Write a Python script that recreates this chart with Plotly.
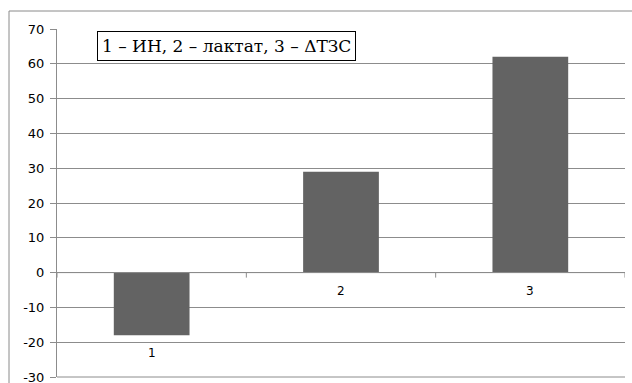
import plotly.graph_objects as go

categories = ["1", "2", "3"]
values = [-18, 29, 62]
y_ticks = [-30, -20, -10, 0, 10, 20, 30, 40, 50, 60, 70]
y_tick_labels = ["-30", "-20", "-10", "0", "10", "20", "30", "40", "50", "60", "70"]
legend_text = "1 – ИН, 2 – лактат, 3 – ΔТЗС"

W, H = 632, 383
L, R, T, B = 57, 7, 29, 6
pw, ph = W - L - R, H - T - B

fig = go.Figure()
fig.add_trace(go.Bar(
    x=list(range(len(categories))), y=values,
    marker=dict(color="#636363", line=dict(width=0)),
    width=0.4, showlegend=False, hoverinfo="skip",
))

shapes = []
shapes.append(dict(type="line", xref="x", yref="y", x0=-0.5, x1=len(categories) - 0.5,
                   y0=0, y1=0, line=dict(color="#8c8c8c", width=1), layer="above"))
# bottom boundary gridline
shapes.append(dict(type="line", xref="paper", yref="paper", x0=0, x1=1, y0=0, y1=0,
                   line=dict(color="#8c8c8c", width=1)))
tick_units = 5 / ph * (y_ticks[-1] - y_ticks[0])
for i in range(len(categories) + 1):
    shapes.append(dict(type="line", xref="x", yref="y", x0=i - 0.5, x1=i - 0.5,
                       y0=0, y1=-tick_units, line=dict(color="#8c8c8c", width=1)))
shapes.append(dict(type="rect", xref="paper", yref="paper",
                   x0=(9 - L) / pw, x1=1.2, y0=-0.2, y1=(H - B - 11) / ph,
                   line=dict(color="#8a8a8a", width=1), fillcolor="rgba(0,0,0,0)"))

annotations = []
for i, (c, v) in enumerate(zip(categories, values)):
    annotations.append(dict(x=i, y=min(v, 0), xref="x", yref="y", text=c,
                            showarrow=False, yanchor="top", yshift=-9,
                            font=dict(family="DejaVu Sans", size=12, color="#000")))
annotations.append(dict(x=(97 - L) / pw, y=(H - B - 31) / ph, xref="paper", yref="paper",
                        xanchor="left", yanchor="top", text=legend_text, showarrow=False,
                        font=dict(family="DejaVu Serif", size=17, color="#000"),
                        bordercolor="#000", borderwidth=1, borderpad=4, bgcolor="#fff"))

fig.update_layout(
    width=W, height=H, margin=dict(l=L, r=R, t=T, b=B, autoexpand=False),
    paper_bgcolor="#fff", plot_bgcolor="#fff",
    bargap=0.6,
    xaxis=dict(range=[-0.5, len(categories) - 0.5], showticklabels=False, showgrid=False,
               zeroline=False, showline=False, ticks="", automargin=False),
    yaxis=dict(range=[y_ticks[0], y_ticks[-1]], tickvals=y_ticks, ticktext=y_tick_labels,
               showgrid=True, automargin=False, ticklabeloverflow="allow", ticklabelstandoff=3,
               gridcolor="#8c8c8c", gridwidth=1, zeroline=False, showline=True,
               linecolor="#8c8c8c", linewidth=1, ticks="outside", ticklen=6,
               tickcolor="#8c8c8c", tickfont=dict(family="DejaVu Sans", size=13, color="#000")),
    shapes=shapes, annotations=annotations,
)
fig.write_html("out.html", config={"displayModeBar": False},
               post_script="document.body.style.margin='0';document.body.style.overflow='hidden';")
